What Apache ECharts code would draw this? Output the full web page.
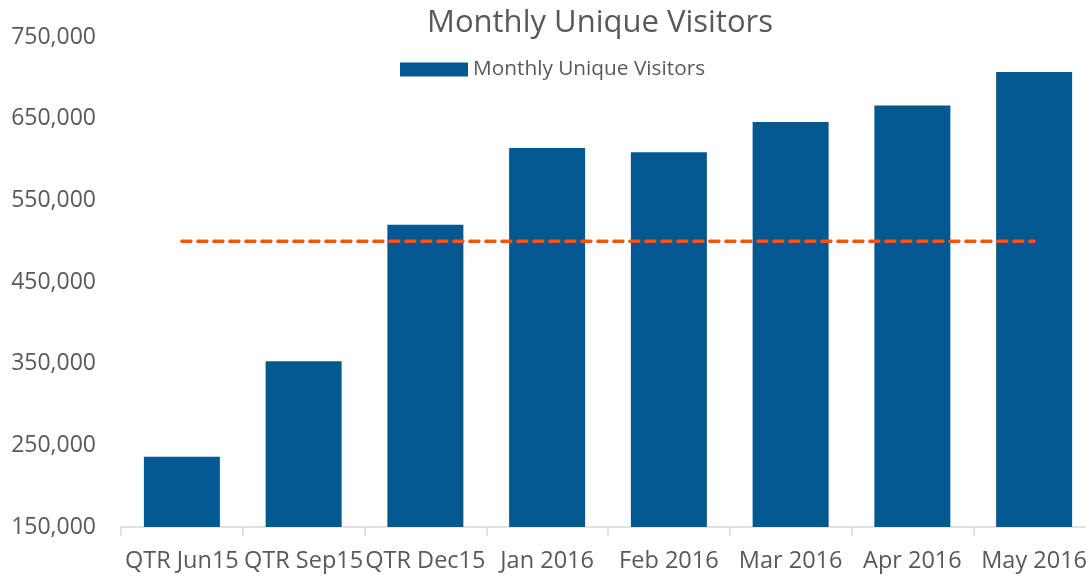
<!DOCTYPE html>
<html>
<head>
<meta charset="utf-8">
<script src="https://cdn.jsdelivr.net/npm/echarts@6/dist/echarts.min.js"></script>
<style>
  html, body { margin: 0; padding: 0; background: #fff; }
  #chart { width: 1086px; height: 577px; }
</style>
</head>
<body>
<div id="chart"></div>
<script>
// categories and values
var categories = ['QTR Jun15', 'QTR Sep15', 'QTR Dec15', 'Jan 2016', 'Feb 2016', 'Mar 2016', 'Apr 2016', 'May 2016'];
var visitors = [236000, 353000, 520000, 614000, 609000, 646000, 666000, 707000];
var target = [500000, 500000, 500000, 500000, 500000, 500000, 500000, 500000];
var yTicks = [150000, 250000, 350000, 450000, 550000, 650000, 750000];

var font = '"Open Sans", sans-serif';
var myChart = echarts.init(document.getElementById('chart'));

myChart.setOption({
  animation: false,
  title: {
    text: 'Monthly Unique Visitors',
    left: 595,
    textAlign: 'center',
    top: 3,
    textStyle: { color: '#595959', fontSize: 31, fontWeight: 'normal', fontFamily: font }
  },
  legend: {
    data: ['Monthly Unique Visitors'],
    left: 395,
    top: 54,
    icon: 'rect',
    itemWidth: 68,
    itemHeight: 14,
    itemGap: 8,
    textStyle: { color: '#595959', fontSize: 20.8, fontFamily: font }
  },
  grid: {
    left: 121,
    top: 37,
    width: 974,
    height: 490,
    containLabel: false,
    outerBoundsMode: 'none'
  },
  xAxis: {
    type: 'category',
    data: categories,
    axisLine: { lineStyle: { color: '#d9d9d9', width: 1.5 } },
    axisTick: { show: true, length: 9, lineStyle: { color: '#d9d9d9', width: 1.5 } },
    axisLabel: { color: '#595959', fontSize: 23.5, fontFamily: font, margin: 22, interval: 0 }
  },
  yAxis: {
    type: 'value',
    min: yTicks[0],
    max: yTicks[yTicks.length - 1],
    interval: 100000,
    axisLine: { show: false },
    axisTick: { show: false },
    splitLine: { show: false },
    axisLabel: {
      color: '#595959',
      fontSize: 23,
      fontFamily: font,
      margin: 25,
      formatter: function (v) { return v.toLocaleString('en-US'); }
    }
  },
  series: [
    {
      name: 'Monthly Unique Visitors',
      type: 'bar',
      data: visitors,
      barWidth: 76,
      itemStyle: { color: '#03588F' }
    },
    {
      name: 'Target',
      type: 'line',
      data: target,
      symbol: 'none',
      lineStyle: { color: '#FF5115', width: 3.5, type: [9, 7], cap: 'round' },
      z: 3
    }
  ]
});
</script>
</body>
</html>
